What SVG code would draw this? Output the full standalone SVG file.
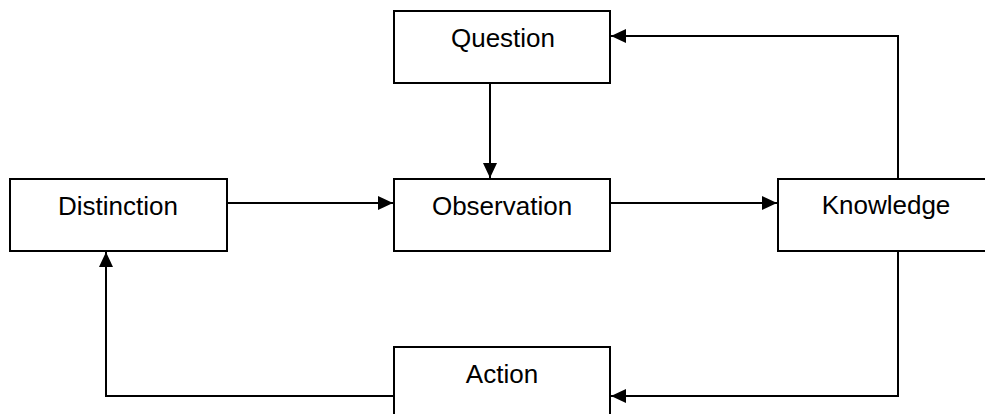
<svg xmlns="http://www.w3.org/2000/svg" width="985" height="414" viewBox="0 0 985 414">
<style>
.box{fill:#fff;stroke:#000;stroke-width:2}
.lbl{font-family:"Liberation Sans",Arial,sans-serif;font-size:26px;fill:#000;text-anchor:middle}
.ln{fill:none;stroke:#000;stroke-width:2}
</style>
<defs>
<marker id="ah" viewBox="0 0 15 14" refX="15" refY="7" markerWidth="15" markerHeight="14" markerUnits="userSpaceOnUse" orient="auto">
<path d="M0,0 L15,7 L0,14 Z" fill="#000"/>
</marker>
</defs>
<rect width="985" height="414" fill="#fff"/>
<g id="connectors">
<path class="ln" d="M490,83 V178" marker-end="url(#ah)"/>
<path class="ln" d="M227,203 H393" marker-end="url(#ah)"/>
<path class="ln" d="M610,203 H777" marker-end="url(#ah)"/>
<path class="ln" d="M898,179 V36 H611" marker-end="url(#ah)"/>
<path class="ln" d="M898,251 V396 H611" marker-end="url(#ah)"/>
<path class="ln" d="M394,396 H106 V252" marker-end="url(#ah)"/>
</g>
<g id="question"><rect class="box" x="394" y="11" width="216" height="72"/><text class="lbl" x="503" y="47">Question</text></g>
<g id="distinction"><rect class="box" x="10" y="179" width="217" height="72"/><text class="lbl" x="118" y="215">Distinction</text></g>
<g id="observation"><rect class="box" x="394" y="179" width="216" height="72"/><text class="lbl" x="502" y="215">Observation</text></g>
<g id="knowledge"><rect class="box" x="778" y="179" width="216" height="72"/><text class="lbl" x="886" y="214">Knowledge</text></g>
<g id="action"><rect class="box" x="394" y="347" width="216" height="72"/><text class="lbl" x="502" y="383">Action</text></g>
</svg>
